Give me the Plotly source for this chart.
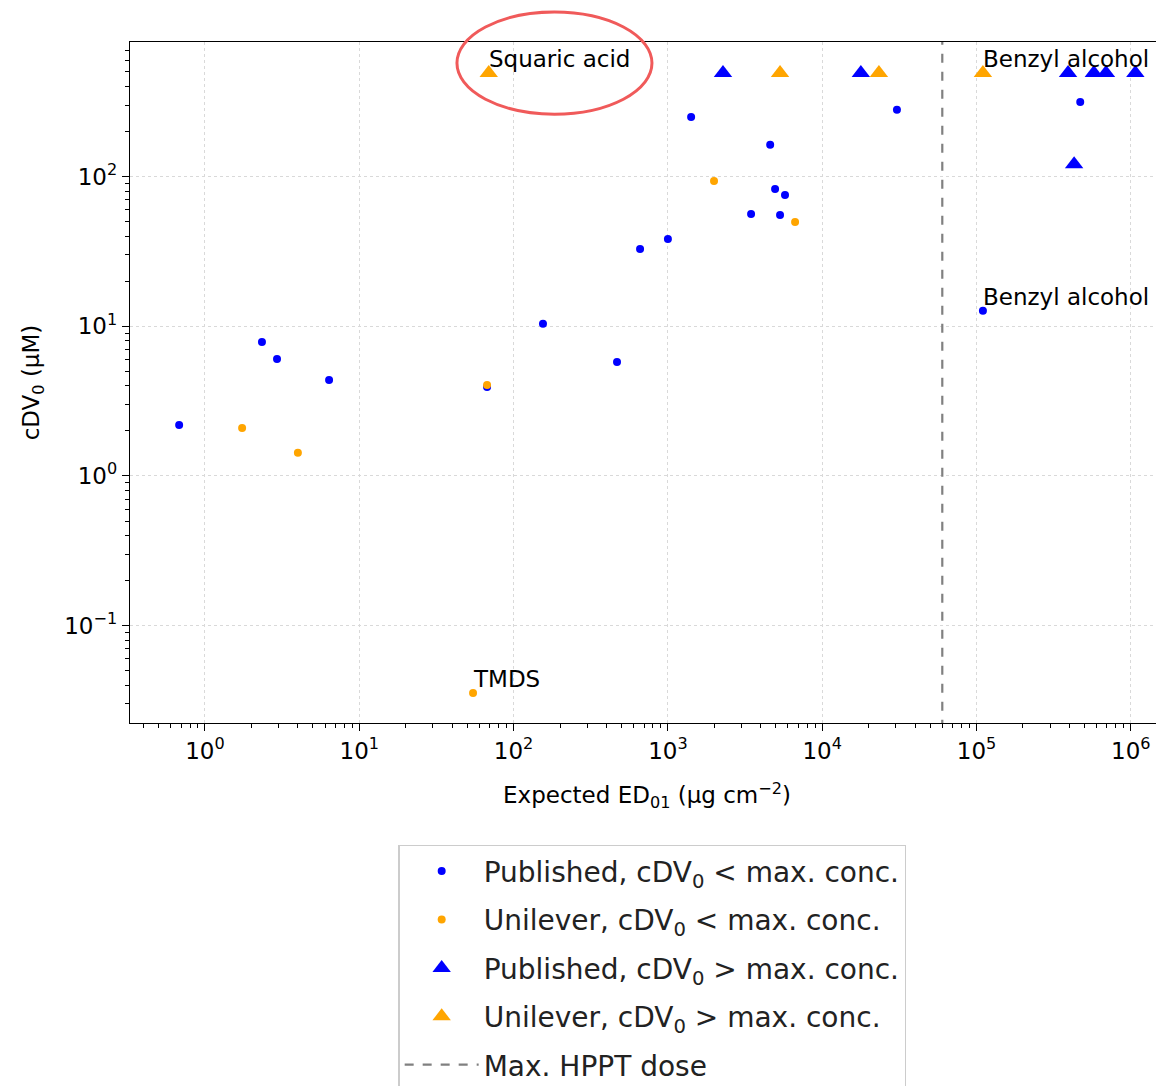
import numpy as np
import plotly.graph_objects as go

# ---- data ----
pub_below_x = [0.68, 2.34, 2.93, 6.37, 67.3, 155, 468, 660, 1000, 1414, 3460, 4600,
               4950, 5330, 5740, 30500, 1.1e5, 4.7e5]
pub_below_y = [2.19, 7.85, 6.05, 4.38, 3.93, 10.4, 5.78, 32.8, 38.3, 250, 56.3, 163,
               82.6, 55.4, 75.4, 279, 12.7, 315]

uni_below_x = [1.74, 4.0, 54.6, 67.3, 1990, 6670]
uni_below_y = [2.09, 1.43, 0.0355, 4.05, 93.6, 49.7]

pub_above_x = [2275, 17800, 3.92e5, 5.76e5, 6.9e5, 1.07e6, 4.29e5]
pub_above_y = [492, 492, 492, 492, 492, 492, 121]

uni_above_x = [69, 5330, 23300, 1.1e5]
uni_above_y = [492, 492, 492, 492]

hppt_dose = 6.0e4

labels_text = ["Squaric acid", "Benzyl alcohol", "Benzyl alcohol", "TMDS"]
labels_x = [69, 1.1e5, 1.1e5, 54.6]
labels_y = [492, 492, 12.7, 0.0355]

x_tick_vals = [1e0, 1e1, 1e2, 1e3, 1e4, 1e5, 1e6]
x_tick_text = ["10<sup>0</sup>", "10<sup>1</sup>", "10<sup>2</sup>", "10<sup>3</sup>",
               "10<sup>4</sup>", "10<sup>5</sup>", "10<sup>6</sup>"]
y_tick_vals = [1e-1, 1e0, 1e1, 1e2]
y_tick_text = ["10<sup>\u22121</sup>", "10<sup>0</sup>", "10<sup>1</sup>", "10<sup>2</sup>"]

legend_names = [
    "Published, cDV<sub>0</sub> &lt; max. conc.",
    "Unilever, cDV<sub>0</sub> &lt; max. conc.",
    "Published, cDV<sub>0</sub> &gt; max. conc.",
    "Unilever, cDV<sub>0</sub> &gt; max. conc.",
    "Max. HPPT dose",
]

BLUE = "#0000ff"
ORANGE = "#ffa500"
FONT = "DejaVu Sans"
FS = 23

x_range = [-0.486, 6.215]
y_range = [-1.65, 2.899]

fig = go.Figure()
fig.add_trace(go.Scatter(x=pub_below_x, y=pub_below_y, mode="markers", name=legend_names[0],
                         legendgroup="a",
                         marker=dict(color=BLUE, size=8, symbol="circle")))
fig.add_trace(go.Scatter(x=uni_below_x, y=uni_below_y, mode="markers", name=legend_names[1],
                         legendgroup="b",
                         marker=dict(color=ORANGE, size=8, symbol="circle")))
fig.add_trace(go.Scatter(x=pub_above_x, y=pub_above_y, mode="markers", name=legend_names[2],
                         legendgroup="c",
                         marker=dict(color=BLUE, size=16, symbol="triangle-up")))
fig.add_trace(go.Scatter(x=uni_above_x, y=uni_above_y, mode="markers", name=legend_names[3],
                         legendgroup="d",
                         marker=dict(color=ORANGE, size=16, symbol="triangle-up")))
fig.add_trace(go.Scatter(x=[hppt_dose, hppt_dose], y=[10 ** (y_range[0] - 1), 10 ** (y_range[1] + 1)],
                         mode="lines", name=legend_names[4], legendgroup="e",
                         line=dict(color="#808080", width=2.2, dash="dash")))

for t, xv, yv in zip(labels_text, labels_x, labels_y):
    fig.add_annotation(x=np.log10(xv), y=np.log10(yv), xref="x", yref="y", text=t,
                       showarrow=False, xanchor="left", yanchor="bottom", yshift=-1, xshift=-2,
                       font=dict(family=FONT, size=FS, color="#000000"))

# red highlight ellipse
fig.add_shape(type="circle", xref="paper", yref="paper",
              x0=0.3162, x1=0.5048, y0=0.894, y1=1.044,
              line=dict(color="#f05a5a", width=3))

def minor_vals(lo, hi):
    vals = []
    for d in range(int(np.floor(lo)) - 1, int(np.ceil(hi)) + 1):
        for m in range(2, 10):
            v = m * 10.0 ** d
            if lo <= np.log10(v) <= hi:
                vals.append(v)
    return vals

axis_common = dict(
    type="log", showline=True, linecolor="black", linewidth=1.3,
    ticks="outside", ticklen=7, tickwidth=1.3, tickcolor="black",
    showgrid=True, gridcolor="#d9d9d9", griddash="dot", gridwidth=1,
    zeroline=False, tickmode="array", automargin=False,
    tickfont=dict(family=FONT, size=FS, color="#000000"),
)

fig.update_xaxes(**axis_common, range=x_range, mirror=True,
                 tickvals=x_tick_vals, ticktext=x_tick_text,
                 minor=dict(tickvals=minor_vals(*x_range), ticks="outside", ticklen=4,
                            tickwidth=1, tickcolor="black", showgrid=False),
                 title=dict(text="Expected ED<sub>01</sub> (\u00b5g cm<sup>\u22122</sup>)",
                            font=dict(family=FONT, size=FS, color="#000000"), standoff=24))
fig.update_yaxes(**axis_common, range=y_range,
                 tickvals=y_tick_vals, ticktext=y_tick_text,
                 minor=dict(tickvals=minor_vals(*y_range), ticks="outside", ticklen=4,
                            tickwidth=1, tickcolor="black", showgrid=False),
                 title=dict(text="cDV<sub>0</sub> (\u00b5M)",
                            font=dict(family=FONT, size=FS, color="#000000"), standoff=18))

# the page body adds an 8px offset; size the figure to fill the window exactly
fig.update_layout(
    width=1156, height=1078,
    margin=dict(l=122, r=0, t=34, b=363, autoexpand=False),
    plot_bgcolor="white", paper_bgcolor="white",
    font=dict(family=FONT, size=FS, color="#000000"),
    showlegend=True,
    legend=dict(x=0.505, y=-0.179, xanchor="center", yanchor="top",
                bgcolor="white", bordercolor="#cccccc", borderwidth=1.5,
                font=dict(family=FONT, size=28, color="#222222"),
                tracegroupgap=9, itemwidth=74),
)

fig.write_html("out.html")
